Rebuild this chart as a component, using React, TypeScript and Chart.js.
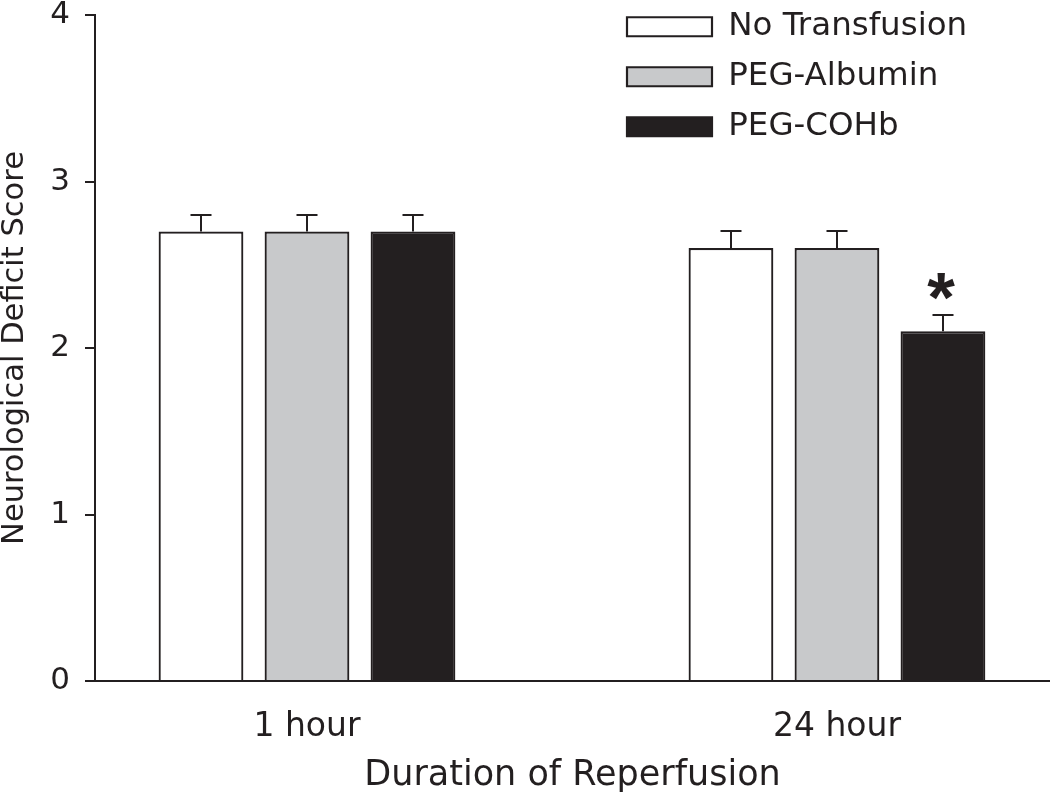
import React, { useEffect, useRef } from 'react';
import { Chart, registerables } from 'chart.js';

Chart.register(...registerables);

// ---- data ----
const categories = ['1 hour', '24 hour'];
const categoryPositions = [1, 2];
const seriesNames = ['No Transfusion', 'PEG-Albumin', 'PEG-COHb'];
const noTransfusion = [2.7, 2.6];
const pegAlbumin = [2.7, 2.6];
const pegCOHb = [2.7, 2.1];
const noTransfusionErr = [0.1, 0.1];
const pegAlbuminErr = [0.1, 0.1];
const pegCOHbErr = [0.1, 0.1];
const noTransfusionSig = [false, false];
const pegAlbuminSig = [false, false];
const pegCOHbSig = [false, true];
const yTickStep = 1;
const yMin = 0;
const yMax = 4;

// ---- styles ----
const INK = '#231f20';
const FONT = "'DejaVu Sans'";
const fills = ['#ffffff', '#c8c9cb', INK];

const seriesValues = [noTransfusion, pegAlbumin, pegCOHb];
const seriesErrors = [noTransfusionErr, pegAlbuminErr, pegCOHbErr];
const seriesSig = [noTransfusionSig, pegAlbuminSig, pegCOHbSig];

const errorBarPlugin = {
  id: 'errorBars',
  afterDatasetsDraw(chart: any) {
    const { ctx } = chart;
    const y = chart.scales.y;
    ctx.save();
    ctx.strokeStyle = INK;
    ctx.fillStyle = INK;
    ctx.lineWidth = 2;
    chart.data.datasets.forEach((ds: any, di: number) => {
      const meta = chart.getDatasetMeta(di);
      const errs = seriesErrors[di];
      const sig = seriesSig[di];
      meta.data.forEach((bar: any, i: number) => {
        const v = seriesValues[di][i];
        const top = Math.round(y.getPixelForValue(v + errs[i]));
        const x = Math.round(bar.x);
        ctx.beginPath();
        ctx.moveTo(x, bar.y);
        ctx.lineTo(x, top);
        ctx.moveTo(x - 10.5, top);
        ctx.lineTo(x + 10.5, top);
        ctx.stroke();
        if (sig[i]) {
          ctx.font = `bold 100px 'Liberation Sans'`;
          const m = ctx.measureText('*');
          const h100 = m.actualBoundingBoxAscent + m.actualBoundingBoxDescent;
          const size = (100 * 27) / h100;
          ctx.font = `bold ${size}px 'Liberation Sans'`;
          const m2 = ctx.measureText('*');
          ctx.textAlign = 'center';
          ctx.textBaseline = 'alphabetic';
          const baseline = top - 15.5 - m2.actualBoundingBoxDescent;
          ctx.fillText('*', x - 2, baseline);
        }
      });
    });
    ctx.restore();
  },
};

const legendPlacement = {
  id: 'legendPlacement',
  afterLayout(chart: any) {
    const lg = chart.legend;
    if (!lg) return;
    const w = lg.width;
    lg.left = 609.5;
    lg.top = -7;
    lg.right = lg.left + w;
    lg.bottom = chart.height;
  },
};

export default function App() {
  const ref = useRef<HTMLCanvasElement | null>(null);

  useEffect(() => {
    if (!ref.current) return;
    const datasets = seriesNames.map((name, si) => ({
      label: name,
      data: seriesValues[si].map((v, i) => ({ x: categoryPositions[i], y: v })),
      backgroundColor: fills[si],
      borderColor: INK,
      borderWidth: 2.2,
      categoryPercentage: 0.6,
      barPercentage: 0.8,
    }));

    const chart = new Chart(ref.current, {
      type: 'bar',
      data: { datasets },
      plugins: [errorBarPlugin, legendPlacement],
      options: {
        responsive: false,
        animation: false,
        devicePixelRatio: 1,
        events: [],
        layout: { padding: { top: 0, left: 0, right: 0, bottom: 0 } },
        plugins: {
          tooltip: { enabled: false },
          legend: {
            display: true,
            position: 'chartArea',
            align: 'start',
            labels: {
              boxWidth: 85,
              boxHeight: 19,
              padding: 17.5,
              color: INK,
              font: { family: FONT, size: 32.5 },
            },
          },
        },
        scales: {
          x: {
            type: 'linear',
            min: 0.6,
            max: 2.402,
            bounds: 'data',
            offset: false,
            afterBuildTicks: (scale: any) => {
              scale.ticks = categoryPositions.map((v) => ({ value: v }));
            },
            afterFit: (scale: any) => {
              scale.height = 116;
              scale.paddingLeft = 0;
              scale.paddingRight = 0;
            },
            ticks: {
              callback: (v: any) => {
                const idx = categoryPositions.indexOf(Number(v));
                return idx >= 0 ? categories[idx] : '';
              },
              autoSkip: false,
              maxRotation: 0,
              padding: 27,
              color: INK,
              font: { family: FONT, size: 33, lineHeight: 1.2 },
            },
            grid: { display: false, drawTicks: false },
            border: { display: true, color: INK, width: 2 },
            title: {
              display: true,
              text: 'Duration of Reperfusion',
              color: INK,
              font: { family: FONT, size: 35, lineHeight: 1 },
              padding: { top: 0, bottom: 4 },
            },
          },
          y: {
            type: 'linear',
            min: yMin,
            max: yMax,
            afterFit: (scale: any) => {
              scale.width = 95;
              scale.paddingTop = 15;
              scale.paddingBottom = 0;
            },
            ticks: {
              stepSize: yTickStep,
              padding: 15,
              color: INK,
              font: { family: FONT, size: 31, lineHeight: 0.9 },
            },
            grid: {
              display: true,
              drawOnChartArea: false,
              drawTicks: true,
              tickLength: 10,
              lineWidth: 2,
              color: INK,
            },
            border: { display: true, color: INK, width: 2 },
            title: {
              display: true,
              text: 'Neurological Deficit Score',
              color: INK,
              font: { family: FONT, size: 30.5, lineHeight: 1 },
              padding: 0,
            },
          },
        },
      } as any,
    });
    return () => chart.destroy();
  }, []);

  return (
    <div style={{ position: 'absolute', left: 0, top: 0, width: 1050, height: 797, background: '#ffffff' }}>
      <canvas ref={ref} width={1050} height={797} style={{ display: 'block', width: 1050, height: 797 }} />
    </div>
  );
}
